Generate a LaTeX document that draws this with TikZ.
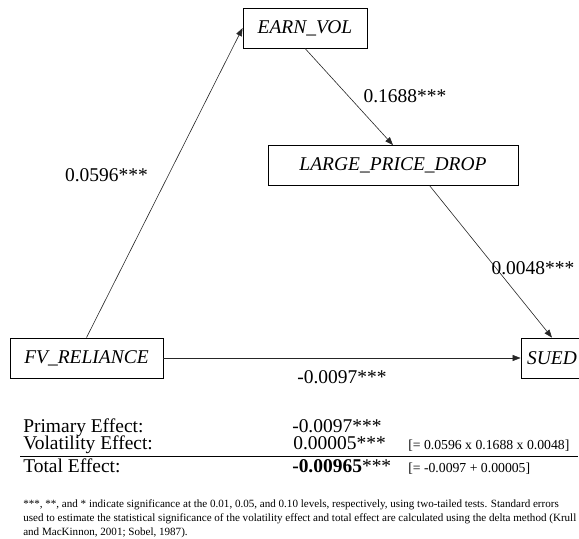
\documentclass[tikz,border=0pt]{standalone}
\usepackage{fontspec}
\setmainfont{Liberation Serif}
\usetikzlibrary{arrows.meta}

\begin{document}
\begin{tikzpicture}[x=0.75pt,y=0.75pt,yscale=-1,xscale=1,
  varbox/.style={draw, line width=0.6pt, minimum height=30pt, inner sep=0pt, font=\fontsize{14.6}{17}\selectfont\itshape},
  effarrow/.style={draw=black!85, line width=0.45pt, -{Triangle[length=6pt,width=4.5pt]}},
  coef/.style={inner sep=0pt, font=\fontsize{14.6}{17}\selectfont},
  tabtext/.style={inner sep=0pt, anchor=base west, font=\fontsize{14.6}{17}\selectfont},
  calc/.style={inner sep=0pt, anchor=base west, font=\fontsize{10.3}{12}\selectfont},
  note/.style={inner sep=0pt, anchor=base west, font=\fontsize{8.3}{10}\selectfont}]
\path[use as bounding box, clip] (0,0) rectangle (579,539);

% Variable boxes
\node (earn) [varbox, minimum width=93pt] at (305,28) {EARN\_VOL};
\node (large) [varbox, minimum width=187.5pt] at (393,165.5) {LARGE\_PRICE\_DROP};
\node (fv) [varbox, minimum width=114.75pt] at (86.5,358) {FV\_RELIANCE};
\node (sued) [varbox, minimum width=46.5pt] at (552,358) {SUED};

% Paths
\draw [effarrow] (fv.north) -- (earn.west);
\draw [effarrow] (earn.south) -- (large.north);
\draw [effarrow] (large.-29) -- (sued.north);
\draw [effarrow] (fv) -- (sued);

% Coefficients
\node (cA) [coef] at (106.5,175) {0.0596***};
\node (cB) [coef] at (405,96) {0.1688***};
\node (cC) [coef] at (533,268) {0.0048***};
\node (cD) [coef] at (342,377) {-0.0097***};

% Effects table
\node (prim) [tabtext] at (23,432) {Primary Effect:};
\node (vol) [tabtext] at (23,449) {Volatility Effect:};
\node (tot) [tabtext] at (23,472) {Total Effect:};
\node (primv) [tabtext] at (292,432) {-0.0097***};
\node (volv) [tabtext] at (293,449) {0.00005***};
\node (totv) [tabtext] at (292,472) {\textbf{-0.00965}***};
\node (volc) [calc] at (408,449) {[= 0.0596 x 0.1688 x 0.0048]};
\node (totc) [calc] at (408,472) {[= -0.0097 + 0.00005]};
\draw [line width=0.75pt] (20,456) -- (578,456);

% Note
\node (n1) [note] at (23,507) {***, **, and * indicate significance at the 0.01, 0.05, and 0.10 levels, respectively, using two-tailed tests. Standard errors};
\node (n2) [note] at (23,521) {used to estimate the statistical significance of the volatility effect and total effect are calculated using the delta method (Krull};
\node (n3) [note] at (23,535) {and MacKinnon, 2001; Sobel, 1987).};
\end{tikzpicture}
\end{document}
